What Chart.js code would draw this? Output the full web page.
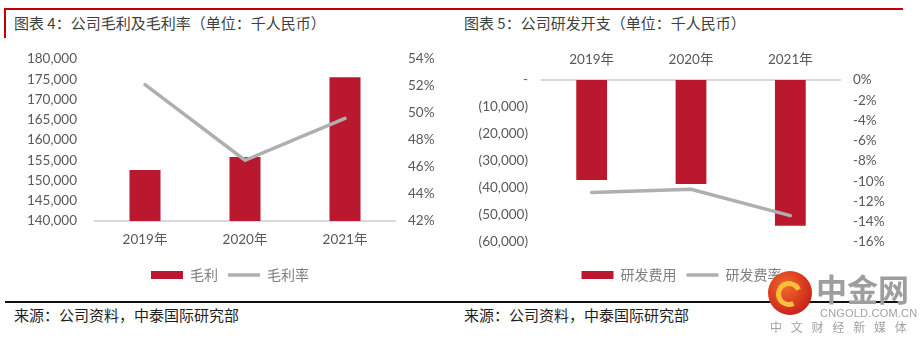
<!DOCTYPE html>
<html>
<head>
<meta charset="utf-8">
<script src="https://cdn.jsdelivr.net/npm/chart.js@4/dist/chart.umd.min.js"></script>
<style>
  body { margin: 0; background: #fff; }
  #page { position: relative; width: 924px; height: 345px; overflow: hidden; font-family: "Noto Sans CJK SC", sans-serif; }
  .rule { position: absolute; }
  .title { position: absolute; top: 13px; font-size: 15px; line-height: 20px; color: #3f3f3f; white-space: nowrap; }
  .source { position: absolute; top: 305px; font-size: 15px; line-height: 20px; color: #1e1e1e; white-space: nowrap; }
  canvas { position: absolute; }
  .wm { position: absolute; white-space: nowrap; color: #a2a2a2; }
</style>
</head>
<body>
<div id="page">
  <!-- header rules -->
  <div class="rule" style="left:4px; top:8px; width:899px; height:2px; background:#c00000;"></div>
  <div class="rule" style="left:4px; top:8px; width:2px; height:30px; background:#c00000;"></div>
  <div class="title" style="left:14px;">图表 4：公司毛利及毛利率（单位：千人民币）</div>
  <div class="title" style="left:464px;">图表 5：公司研发开支（单位：千人民币）</div>

  <canvas id="profitChart" width="460" height="260" style="left:0; top:40px;"></canvas>
  <canvas id="rdChart" width="443" height="260" style="left:460px; top:40px;"></canvas>

  <!-- footer -->
  <div class="rule" style="left:5px; top:301px; width:898px; height:2px; background:#111;"></div>
  <div class="source" style="left:14px;">来源：公司资料，中泰国际研究部</div>
  <div class="source" style="left:464px;">来源：公司资料，中泰国际研究部</div>

  <!-- watermark -->
  <div class="wm" style="left:768px; top:271px; width:44px; height:44px; border-radius:50%; background:radial-gradient(circle at 40% 35%, #f26a2a, #c9221b 75%);"></div>
  <div class="wm" style="left:776px; top:281px; width:16px; height:16px; border-radius:50%; border:5px solid #f8c03a; border-right-color:transparent; transform:rotate(20deg);"></div>
  <div class="wm" style="left:816px; top:269px; font-size:31px; line-height:37px; font-weight:bold; color:#9e9e9e;">中金网</div>
  <div class="wm" style="left:820px; top:306px; font-size:11px; line-height:14px; font-family:'Liberation Sans', sans-serif; letter-spacing:0.2px;">CNGOLD.COM.CN</div>
  <div class="wm" style="left:770px; top:319px; font-size:12px; line-height:16px; letter-spacing:8.8px;">中文财经新媒体</div>
</div>

<script>
// ---------- data ----------
const years = ["2019年", "2020年", "2021年"];

// chart 4: gross profit (RMB k) and gross margin (%)
const grossProfit = [152600, 155800, 175500];
const grossMargin = [52.1, 46.5, 49.6];

// chart 5: R&D expense (RMB k, shown negative) and R&D ratio (%)
const rdExpense = [-37000, -38500, -54000];
const rdRatio = [-11.1, -10.8, -13.4];

// axis ranges
const profitAxis = { min: 140000, max: 180000, step: 5000 };
const marginAxis = { min: 42, max: 54, step: 2 };
const rdAxis = { min: -60000, max: 0, step: 10000 };
const rdRatioAxis = { min: -16, max: 0, step: 2 };

// ---------- styles ----------
const barRed = "#b9182e";
const lineGray = "#afafaf";
const tickColor = "#595959";
const latinFont = "Lato, 'Noto Sans CJK SC', sans-serif";
const cjkFont = "'Noto Sans CJK SC', sans-serif";

function fmtNum(v) {
  return Math.abs(v).toLocaleString("en-US");
}

// fixed axis width; drop the tick padding chart.js adds above/below the axis
function fixWidth(w) {
  return function (s) {
    s.width = w;
    s.paddingTop = 8;
    s.paddingBottom = 8;
  };
}

// legend: red rect for bars, short gray line for the line series
function legendItems(chart) {
  var items = Chart.defaults.plugins.legend.labels.generateLabels(chart);
  items.forEach(function (it) {
    var ds = chart.data.datasets[it.datasetIndex];
    if (ds.type === "line") {
      it.pointStyle = "line";
      it.strokeStyle = lineGray;
      it.lineWidth = 3.5;
    } else {
      it.pointStyle = "rect";
      it.lineWidth = 0;
    }
  });
  items.sort(function (a, b) { return a.datasetIndex - b.datasetIndex; });
  return items;
}

const legendOpts = {
  position: "bottom",
  labels: {
    usePointStyle: true,
    pointStyleWidth: 32,
    boxHeight: 8,
    padding: 10,
    color: "#7f7f7f",
    font: { family: cjkFont, size: 14 },
    generateLabels: legendItems
  }
};

const noGrid = { display: false, drawTicks: false };

//############################
//###### Chart 4  ############
//############################
const profitChart = new Chart(document.getElementById("profitChart"), {
  data: {
    labels: years,
    datasets: [
      {
        type: "bar",
        label: "毛利",
        data: grossProfit,
        backgroundColor: barRed,
        yAxisID: "y",
        barPercentage: 0.31,
        categoryPercentage: 1,
        order: 1
      },
      {
        type: "line",
        label: "毛利率",
        data: grossMargin,
        borderColor: lineGray,
        backgroundColor: lineGray,
        borderWidth: 3.5,
        borderCapStyle: "round",
        pointRadius: 0,
        tension: 0,
        yAxisID: "y1",
        order: 0
      }
    ]
  },
  options: {
    responsive: false,
    animation: false,
    layout: { padding: { top: 19, bottom: 8, left: 0, right: 0 } },
    plugins: { legend: legendOpts, tooltip: { enabled: false } },
    scales: {
      x: {
        grid: noGrid,
        border: { color: "#d9d9d9", width: 2 },
        ticks: { padding: 11, color: tickColor, font: { family: latinFont, size: 13.5 } },
        afterFit: function (s) { s.height = 37; }
      },
      y: {
        position: "left",
        min: profitAxis.min,
        max: profitAxis.max,
        grid: noGrid,
        border: { display: false },
        ticks: {
          stepSize: profitAxis.step,
          padding: 18,
          color: tickColor,
          font: { family: latinFont, size: 13.5 },
          callback: function (v) { return fmtNum(v); }
        },
        afterFit: fixWidth(95)
      },
      y1: {
        position: "right",
        min: marginAxis.min,
        max: marginAxis.max,
        grid: noGrid,
        border: { display: false },
        ticks: {
          stepSize: marginAxis.step,
          padding: 13,
          color: tickColor,
          font: { family: latinFont, size: 13.5 },
          callback: function (v) { return v + "%"; }
        },
        afterFit: fixWidth(65)
      }
    }
  }
});

//############################
//###### Chart 5  ############
//############################
const rdChart = new Chart(document.getElementById("rdChart"), {
  data: {
    labels: years,
    datasets: [
      {
        type: "bar",
        label: "研发费用",
        data: rdExpense,
        backgroundColor: barRed,
        xAxisID: "x",
        yAxisID: "y",
        barPercentage: 0.31,
        categoryPercentage: 1,
        order: 1
      },
      {
        type: "line",
        label: "研发费率",
        data: rdRatio,
        borderColor: lineGray,
        backgroundColor: lineGray,
        borderWidth: 3.5,
        borderCapStyle: "round",
        pointRadius: 0,
        tension: 0,
        xAxisID: "x",
        yAxisID: "y1",
        order: 0
      }
    ]
  },
  options: {
    responsive: false,
    animation: false,
    layout: { padding: { top: 0, bottom: 8, left: 0, right: 0 } },
    plugins: { legend: legendOpts, tooltip: { enabled: false } },
    scales: {
      x: {
        position: "top",
        grid: noGrid,
        border: { color: "#d9d9d9", width: 2 },
        ticks: { padding: 12, color: tickColor, font: { family: latinFont, size: 13.5 } },
        afterFit: function (s) { s.height = 40; }
      },
      // empty spacer between plot and legend
      xPad: {
        type: "category",
        position: "bottom",
        grid: noGrid,
        border: { display: false },
        ticks: { display: false },
        afterFit: function (s) { s.height = 16; }
      },
      y: {
        position: "left",
        min: rdAxis.min,
        max: rdAxis.max,
        grid: noGrid,
        border: { display: false },
        ticks: {
          stepSize: rdAxis.step,
          padding: 14,
          color: tickColor,
          font: { family: latinFont, size: 13.5 },
          callback: function (v) { return v === 0 ? "-" : "(" + fmtNum(v) + ")"; }
        },
        afterFit: fixWidth(82)
      },
      y1: {
        position: "right",
        min: rdRatioAxis.min,
        max: rdRatioAxis.max,
        grid: noGrid,
        border: { display: false },
        ticks: {
          stepSize: rdRatioAxis.step,
          padding: 13,
          color: tickColor,
          font: { family: latinFont, size: 13.5 },
          callback: function (v) { return v + "%"; }
        },
        afterFit: fixWidth(63)
      }
    }
  }
});
</script>
</body>
</html>
